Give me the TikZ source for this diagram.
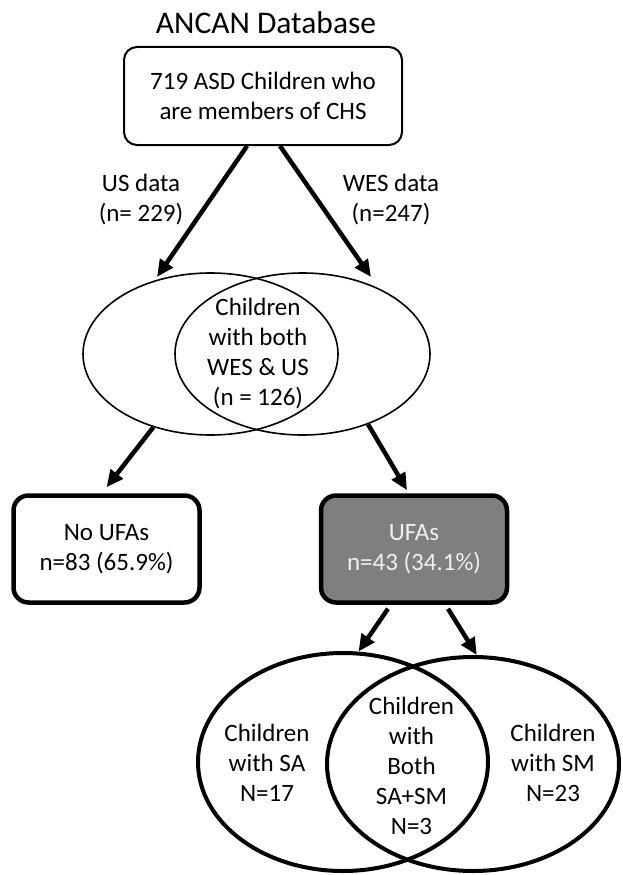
\documentclass[tikz,border=0pt]{standalone}
\usepackage{fontspec}
\setmainfont{Carlito}
\usetikzlibrary{arrows.meta,shapes.geometric}
\definecolor{boxgray}{RGB}{127,127,127}
\definecolor{boxtext}{RGB}{240,240,240}

\begin{document}
\begin{tikzpicture}[x=1pt, y=-1pt,
		txt/.style={align=center, inner sep=0pt, font=\fontsize{25}{30}\selectfont},
		flowArrow/.style={line width=4.5pt, -{Triangle[length=17pt,width=15pt]}},
		vennThin/.style={ellipse, draw, line width=1.6pt, inner sep=0pt},
		vennThick/.style={ellipse, draw, line width=4pt, inner sep=0pt},
		groupBox/.style={draw, line width=4.5pt, rounded corners=15pt,
				minimum width=186pt, minimum height=107pt, txt}]

	\useasboundingbox (0,0) rectangle (623,875);

	% =============================================
	%  DATABASE
	% =============================================

	\node[font=\fontsize{31.5}{36}\selectfont, inner sep=0pt] (title) at (266,23) {ANCAN Database};

	\node[draw, line width=2pt, rounded corners=13pt, minimum width=278pt,
		minimum height=98pt, txt] (ancan) at (263,96)
	{719 ASD Children who\\are members of CHS};

	% =============================================
	%  WES / US VENN
	% =============================================

	\node[vennThin, minimum width=255pt, minimum height=162pt] (usEll) at (210.5,354) {};
	\node[vennThin, minimum width=255pt, minimum height=162pt] (wesEll) at (302.5,354) {};

	\node[txt] (bothTxt) at (258,354) {Children\\with both\\WES \& US\\(n = 126)};

	\coordinate (usIn) at (157,277);
	\coordinate (wesIn) at (371,277);

	\draw[flowArrow] ([xshift=-16pt]ancan.south) -- (usIn);
	\draw[flowArrow] ([xshift=17pt]ancan.south) -- (wesIn);

	\node[txt] (usLbl) at (141,200) {US data\\(n= 229)};
	\node[txt] (wesLbl) at (391,200) {WES data\\(n=247)};

	% =============================================
	%  UFA GROUPS
	% =============================================

	\node[groupBox] (noufa) at (106.5,549) {No UFAs\\n=83 (65.9\%)};
	\node[groupBox, fill=boxgray, text=boxtext] (ufa) at (414,549) {UFAs\\n=43 (34.1\%)};

	\draw[flowArrow] (usEll.232) -- ([yshift=6pt]noufa.north);
	\draw[flowArrow] (wesEll.313) -- ([xshift=-7pt,yshift=3pt]ufa.north);

	% =============================================
	%  SA / SM VENN
	% =============================================

	\node[vennThick, minimum width=290pt, minimum height=218pt] (saCirc) at (343,762) {};
	\node[vennThick, minimum width=292pt, minimum height=214pt] (smCirc) at (473,764) {};

	\draw[flowArrow] ([xshift=-26pt,yshift=-4pt]ufa.south) -- (saCirc.82);
	\draw[flowArrow] ([xshift=34pt,yshift=-4pt]ufa.south) -- (smCirc.88);

	\node[txt] (saTxt) at (267,763) {Children\\with SA\\N=17};
	\node[txt] (bothSaSm) at (411.5,766) {Children\\with\\Both\\SA+SM\\N=3};
	\node[txt] (smTxt) at (553,763) {Children\\with SM\\N=23};

\end{tikzpicture}
\end{document}
